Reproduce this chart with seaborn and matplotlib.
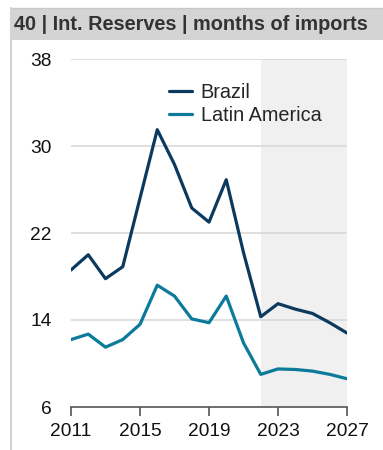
import matplotlib
matplotlib.use("Agg")
import matplotlib.pyplot as plt
from matplotlib.patches import Rectangle
from matplotlib.lines import Line2D
import seaborn as sns
import pandas as pd

years = list(range(2011, 2028))
brazil = [18.6, 20.0, 17.8, 18.9, 25.2, 31.5, 28.3, 24.3, 23.0, 26.9,
          20.2, 14.3, 15.5, 15.0, 14.6, 13.75, 12.8]
latam = [12.2, 12.7, 11.5, 12.2, 13.6, 17.2, 16.2, 14.1, 13.75, 16.2,
         11.9, 9.0, 9.5, 9.45, 9.3, 9.0, 8.6]
series_names = ["Brazil", "Latin America"]
colors = ["#0c3a5e", "#0b7a9b"]
forecast_start = 2022
y_ticks = [6, 14, 22, 30, 38]
x_ticks = [2011, 2015, 2019, 2023, 2027]
title = "40 | Int. Reserves | months of imports"

df = pd.DataFrame({
    "year": years * 2,
    "value": brazil + latam,
    "series": [series_names[0]] * len(years) + [series_names[1]] * len(years),
})

sns.set_theme(style="white")
plt.rcParams["font.family"] = ["Liberation Sans", "DejaVu Sans"]

fig = plt.figure(figsize=(3.83, 4.5), dpi=100)
W, H = 383, 450

# frame: title band and left rule
fig.patches.append(Rectangle((11 / W, 1 - 40 / H), 1 - 11 / W, 32 / H,
                             transform=fig.transFigure, facecolor="#d4d4d4",
                             edgecolor="none", zorder=0))
fig.add_artist(Line2D([11 / W, 1], [1 - 7.5 / H, 1 - 7.5 / H],
                      transform=fig.transFigure, color="#c8c8c8", lw=1))
fig.add_artist(Line2D([11 / W, 11 / W], [0, 1 - 7.5 / H],
                      transform=fig.transFigure, color="#d4d4d4", lw=1.5))
fig.text(14 / W, 1 - 24 / H, title, fontsize=14.3, fontweight="bold",
         color="#333333", va="center", ha="left")

ax = fig.add_axes([71 / W, 1 - 407 / H, (347 - 71) / W, (407 - 59) / H])
ax.axvspan(forecast_start, years[-1], color="#f0f0f0", lw=0, zorder=0)
for t in y_ticks[1:]:
    ax.axhline(t, color="#d9d9d9", lw=1.2, zorder=1)

sns.lineplot(data=df, x="year", y="value", hue="series", palette=colors,
             linewidth=2.3, ax=ax, legend=True, zorder=3)

ax.set_xlim(years[0], years[-1])
ax.set_ylim(y_ticks[0], y_ticks[-1])
ax.set_xticks(x_ticks)
ax.set_xticklabels([str(x) for x in x_ticks])
ax.set_yticks(y_ticks)
ax.set_yticklabels([str(y) for y in y_ticks])
ax.set_xlabel("")
ax.set_ylabel("")
ax.set_facecolor("none")
for s in ["top", "right", "left"]:
    ax.spines[s].set_visible(False)
ax.spines["bottom"].set_color("#555555")
ax.spines["bottom"].set_linewidth(1.2)
ax.tick_params(axis="x", bottom=True, length=6.5, width=1.2, color="#555555",
               labelsize=13.8, pad=5, labelcolor="#111111")
ax.tick_params(axis="y", left=False, length=0, labelsize=13.8, pad=13.7,
               labelcolor="#111111")

leg = ax.legend(loc="upper left", bbox_to_anchor=(0.355, 0.93), frameon=False,
                fontsize=14.3, handlelength=1.15, handletextpad=0.45,
                labelspacing=0.17, borderaxespad=0, borderpad=0)
for h in leg.get_lines():
    h.set_linewidth(2.3)

fig.savefig("out.png", dpi=100)
